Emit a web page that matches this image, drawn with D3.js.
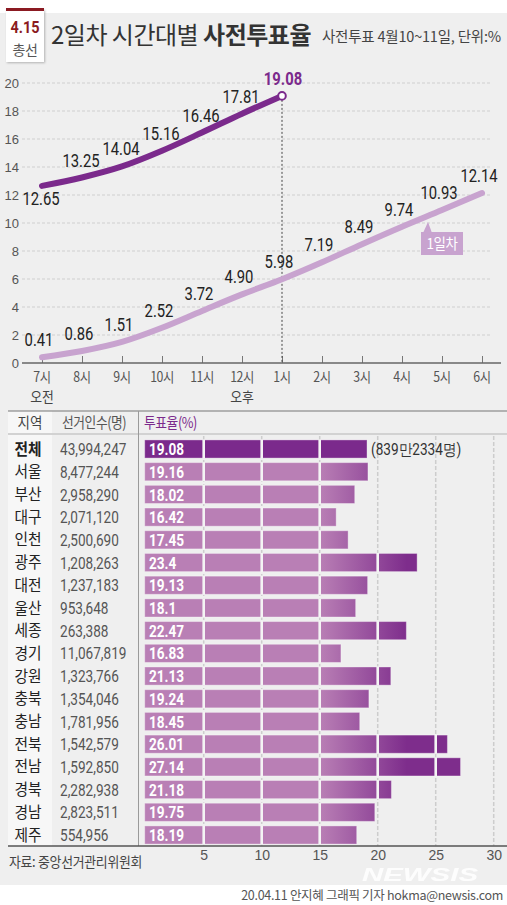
<!DOCTYPE html>
<html><head><meta charset="utf-8">
<script src="https://cdn.jsdelivr.net/npm/d3@7"></script>
<style>
body{margin:0;background:#fff;}
svg{display:block;}
.kr{font-family:"Noto Sans CJK KR","Noto Sans",sans-serif;}
.num{font-family:"Roboto","Liberation Sans",sans-serif;}
</style></head>
<body>
<svg id="c" width="507" height="905"></svg>
<script>
// ---- data ----
const hours = ["7시","8시","9시","10시","11시","12시","1시","2시","3시","4시","5시","6시"];
const day1 = [0.41,0.86,1.51,2.52,3.72,4.90,5.98,7.19,8.49,9.74,10.93,12.14];
const day1Labels = ["0.41","0.86","1.51","2.52","3.72","4.90","5.98","7.19","8.49","9.74","10.93","12.14"];
const day2 = [12.65,13.25,14.04,15.16,16.46,17.81,19.08];
const day2Labels = ["12.65","13.25","14.04","15.16","16.46","17.81","19.08"];
const yTicks = [0,2,4,6,8,10,12,14,16,18,20];

const regions = ["전체","서울","부산","대구","인천","광주","대전","울산","세종","경기","강원","충북","충남","전북","전남","경북","경남","제주"];
const voters = ["43,994,247","8,477,244","2,958,290","2,071,120","2,500,690","1,208,263","1,237,183","953,648","263,388","11,067,819","1,323,766","1,354,046","1,781,956","1,542,579","1,592,850","2,282,938","2,823,511","554,956"];
const rates = [19.08,19.16,18.02,16.42,17.45,23.4,19.13,18.1,22.47,16.83,21.13,19.24,18.45,26.01,27.14,21.18,19.75,18.19];
const rateLabels = ["19.08","19.16","18.02","16.42","17.45","23.4","19.13","18.1","22.47","16.83","21.13","19.24","18.45","26.01","27.14","21.18","19.75","18.19"];
const barTicks = [5,10,15,20,25,30];

const svg = d3.select("#c");
const DARK = "#7b2a8c", LIGHT = "#c8a3cf";

// condensed text helper
function ctext(parent, x, y, str, sx, cls, attrs){
  const g = parent.append("g").attr("transform",`translate(${x},${y}) scale(${sx},1)`);
  const t = g.append("text").attr("class",cls).text(str);
  Object.entries(attrs||{}).forEach(([k,v])=>t.attr(k,v));
  return t;
}

// background
svg.append("rect").attr("x",0).attr("y",13).attr("width",507).attr("height",872).attr("fill","#efefef");

// badge
svg.append("rect").attr("x",6).attr("y",9).attr("width",38).attr("height",53).attr("fill","#fff")
  .style("filter","drop-shadow(1px 1px 1px rgba(0,0,0,0.25))");
svg.append("rect").attr("x",6).attr("y",8).attr("width",38).attr("height",3).attr("fill","#8b1a22");
ctext(svg,25,33,"4.15",0.85,"num",{"text-anchor":"middle","font-size":17,"font-weight":"bold","fill":"#8b1a22"});
svg.append("text").attr("class","kr").attr("x",25).attr("y",55).attr("text-anchor","middle")
  .attr("font-size",14).attr("fill","#555").attr("letter-spacing",-0.5).text("총선");

// title
const t = svg.append("text").attr("class","kr").attr("x",51).attr("y",44).attr("font-size",24).attr("fill","#333").attr("letter-spacing",-0.5);
t.append("tspan").text("2일차 시간대별 ");
t.append("tspan").attr("font-weight","bold").text("사전투표율");
svg.append("text").attr("class","kr").attr("x",501).attr("y",42).attr("text-anchor","end").attr("font-size",14.5)
  .attr("fill","#444").attr("letter-spacing",-0.2).text("사전투표 4월10~11일, 단위:%");

// ---- line chart ----
const x = d3.scalePoint().domain(hours).range([42,482]);
const y = d3.scaleLinear().domain([0,20]).range([363,83]);

const grid = svg.append("g");
yTicks.filter(d=>d>0).forEach(d=>{
  grid.append("line").attr("x1",22).attr("x2",490).attr("y1",y(d)).attr("y2",y(d))
    .attr("stroke","#cfcfcf").attr("stroke-dasharray","3,2").attr("stroke-width",1);
});
const ya = svg.append("g").attr("transform","translate(20,0)")
  .call(d3.axisLeft(y).tickValues(yTicks).tickSize(0).tickPadding(1));
ya.select(".domain").remove();
ya.selectAll("text").attr("font-size",13).attr("fill","#555").attr("font-family","'Liberation Sans','Noto Sans',sans-serif");

const xa = svg.append("g").attr("transform","translate(0,363)")
  .call(d3.axisTop(x).tickSize(7).tickFormat(""));
xa.select(".domain").remove();
xa.selectAll("line").attr("stroke","#777");
svg.append("line").attr("x1",22).attr("x2",501).attr("y1",363).attr("y2",363).attr("stroke","#666").attr("stroke-width",1.5);
hours.forEach(h=>{
  ctext(svg,x(h),382,h,0.88,"kr",{"text-anchor":"middle","font-size":14,"fill":"#555","letter-spacing":-0.5});
});
ctext(svg,x("7시"),402,"오전",0.92,"kr",{"text-anchor":"middle","font-size":14,"fill":"#444"});
ctext(svg,x("12시"),402,"오후",0.92,"kr",{"text-anchor":"middle","font-size":14,"fill":"#444"});

// dashed vertical at 1시
svg.append("line").attr("x1",x("1시")).attr("x2",x("1시")).attr("y1",y(19.08)).attr("y2",363)
  .attr("stroke","#444").attr("stroke-dasharray","2,2").attr("stroke-width",1);

const line = d3.line().x((d,i)=>x(hours[i])).y(d=>y(d)).curve(d3.curveMonotoneX);
svg.append("path").datum(day1).attr("d",line).attr("fill","none").attr("stroke",LIGHT).attr("stroke-width",6).attr("stroke-linecap","round");
svg.append("path").datum(day2).attr("d",line).attr("fill","none").attr("stroke",DARK).attr("stroke-width",6).attr("stroke-linecap","round");
svg.append("circle").attr("cx",x("1시")).attr("cy",y(19.08)).attr("r",3.8).attr("fill","#fff").attr("stroke",DARK).attr("stroke-width",2);

// labels
day1.forEach((v,i)=>{
  ctext(svg,x(hours[i])-3,y(v)-11,day1Labels[i],0.78,"num",{"text-anchor":"middle","font-size":19,"fill":"#222"});
});
day2.forEach((v,i)=>{
  const last = i===day2.length-1;
  const below = i===0;
  ctext(svg,x(hours[i])+(last?1:-1),below? y(v)+19 : y(v)-11,day2Labels[i],0.78,"num",
    {"text-anchor":"middle","font-size":19,"font-weight":last?"bold":"normal","fill":last?DARK:"#222"});
});

// 1일차 tag
svg.append("path").attr("d","M423,233 L428,222 L432,233 Z").attr("fill",LIGHT);
svg.append("rect").attr("x",421).attr("y",232).attr("width",42).attr("height",23).attr("fill",LIGHT);
ctext(svg,442,249,"1일차",0.9,"kr",{"text-anchor":"middle","font-size":15,"fill":"#fff","letter-spacing":-0.5});

// ---- table ----
const tTop = 411, tBottom = 846;
svg.append("rect").attr("x",8).attr("y",tTop).attr("width",44).attr("height",tBottom-tTop).attr("fill","#f7f7f7");
svg.append("line").attr("x1",8).attr("x2",507).attr("y1",tTop).attr("y2",tTop).attr("stroke","#777").attr("stroke-width",1.2);
svg.append("line").attr("x1",8).attr("x2",507).attr("y1",434).attr("y2",434).attr("stroke","#d2d2d2").attr("stroke-width",2);
svg.append("line").attr("x1",138.5).attr("x2",138.5).attr("y1",tTop).attr("y2",tBottom).attr("stroke","#9a9a9a").attr("stroke-width",1);

ctext(svg,30,428,"지역",0.9,"kr",{"text-anchor":"middle","font-size":15,"fill":"#444"});
ctext(svg,62,428,"선거인수(명)",0.85,"kr",{"font-size":15,"fill":"#555","letter-spacing":-0.5});
ctext(svg,144,428,"투표율(%)",0.85,"kr",{"font-size":15,"fill":DARK,"letter-spacing":-0.5});

const bx = d3.scaleLinear().domain([0,30]).range([145.7,493.7]);
const by = d3.scaleBand().domain(regions).range([437.65,846.35]).paddingInner(0.2).paddingOuter(0.1);

// gradient
const defs = svg.append("defs");
const g = defs.append("linearGradient").attr("id","grad").attr("gradientUnits","userSpaceOnUse")
  .attr("x1",bx(15)).attr("x2",bx(22.5)).attr("y1",0).attr("y2",0);
g.append("stop").attr("offset",0).attr("stop-color","#b97fb5");
g.append("stop").attr("offset",1).attr("stop-color","#7e2d8c");

// gridlines
barTicks.forEach(d=>{
  svg.append("line").attr("x1",bx(d)).attr("x2",bx(d)).attr("y1",436).attr("y2",tBottom)
    .attr("stroke","#cdcdcd").attr("stroke-width",1.5).attr("stroke-dasharray","4,2");
});

// bars
regions.forEach((r,i)=>{
  const yy = by(r), h = by.bandwidth(), v = rates[i], cy = yy+h/2;
  svg.append("rect").attr("x",bx(0)-1).attr("y",yy).attr("width",bx(v)-bx(0)+1).attr("height",h)
    .attr("fill", i===0 ? DARK : "url(#grad)").attr("stroke","rgba(255,255,255,0.35)").attr("stroke-width",1);
  barTicks.filter(d=>d<v).forEach(d=>{
    svg.append("rect").attr("x",bx(d)-1.3).attr("y",yy-0.5).attr("width",2.6).attr("height",h+1).attr("fill","#f4f4f4");
  });
  ctext(svg,149,cy,rateLabels[i],0.8,"num",{"dy":"0.36em","font-size":17,"font-weight":"bold","fill":"#fff"});
  ctext(svg,28,cy,r,0.95,"kr",{"dy":"0.36em","text-anchor":"middle","font-size":15.5,"font-weight":i===0?"bold":"normal","fill":"#222"});
  ctext(svg,60,cy,voters[i],0.8,"num",{"dy":"0.36em","font-size":17,"fill":"#555"});
});
ctext(svg,371,by("전체")+by.bandwidth()/2,"(839만2334명)",0.85,"num",{"dy":"0.36em","font-size":16,"fill":"#333"});

svg.append("line").attr("x1",8).attr("x2",507).attr("y1",tBottom).attr("y2",tBottom).attr("stroke","#555").attr("stroke-width",1.5);
const bxa = svg.append("g").attr("transform",`translate(0,${tBottom})`).call(d3.axisBottom(bx).tickValues(barTicks).tickSize(0).tickPadding(4));
bxa.select(".domain").remove();
bxa.selectAll("text").attr("font-size",14).attr("fill","#555").attr("font-family","'Liberation Sans','Noto Sans',sans-serif");

ctext(svg,9,867,"자료: 중앙선거관리위원회",0.92,"kr",{"font-size":14,"fill":"#444","letter-spacing":-0.3});

// watermark
svg.append("text").attr("x",362).attr("y",881).attr("font-size",19).attr("font-weight","bold").attr("font-style","italic")
  .attr("font-family","'Liberation Sans',sans-serif").attr("fill","#fff").attr("opacity",0.9)
  .attr("textLength",116).attr("lengthAdjust","spacingAndGlyphs").text("NEWSIS");

svg.append("text").attr("class","kr").attr("x",503).attr("y",900).attr("text-anchor","end").attr("font-size",12.5)
  .attr("fill","#555").attr("letter-spacing",-0.3).text("20.04.11 안지혜 그래픽 기자 hokma@newsis.com");
</script>
</body></html>
